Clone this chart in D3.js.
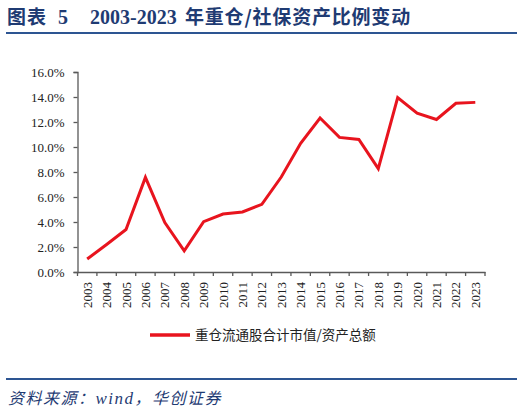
<!DOCTYPE html>
<html>
<head>
<meta charset="utf-8">
<script src="https://cdn.jsdelivr.net/npm/d3@7"></script>
<style>
  body { margin: 0; background: #fff; }
  svg { display: block; }
</style>
</head>
<body>
<script>
  // 数据
  var years = ['2003','2004','2005','2006','2007','2008','2009','2010','2011','2012','2013',
    '2014','2015','2016','2017','2018','2019','2020','2021','2022','2023'];
  var ratio = [1.04, 2.2, 3.4, 7.57, 3.95, 1.7, 4.03, 4.64, 4.8, 5.41, 7.6,
    10.3, 12.32, 10.77, 10.6, 8.27, 13.95, 12.7, 12.2, 13.5, 13.57];
  var yTicks = [0, 2, 4, 6, 8, 10, 12, 14, 16];
  var seriesName = '重仓流通股合计市值/资产总额';

  var width = 524, height = 413;
  var navy = '#1f3b73', rule = '#2d5592', red = '#e8141e', axisColor = '#595959';
  var serif = '"Liberation Serif", "Times New Roman", serif';
  var cjk = '"Noto Sans CJK SC", sans-serif';

  var svg = d3.select('body').append('svg')
    .attr('width', width)
    .attr('height', height);

  // 标题
  var title = svg.append('text')
    .attr('x', 7).attr('y', 24)
    .attr('fill', navy)
    .attr('font-weight', 'bold');
  title.append('tspan').attr('font-family', cjk).attr('font-size', 19).attr('letter-spacing', 1).text('图表');
  title.append('tspan').attr('font-family', serif).attr('font-size', 20).attr('x', 58).text('5');
  title.append('tspan').attr('font-family', serif).attr('font-size', 20).attr('x', 90).text('2003-2023');
  title.append('tspan').attr('font-family', cjk).attr('font-size', 19).attr('x', 185)
    .attr('letter-spacing', 0.8).text('年重仓/社保资产比例变动');

  svg.append('line')
    .attr('x1', 6).attr('x2', 517).attr('y1', 33).attr('y2', 33)
    .attr('stroke', rule).attr('stroke-width', 2);

  // 比例尺
  var x = d3.scaleBand().domain(years).range([77.5, 485]);
  var y = d3.scaleLinear().domain([0, 16]).range([272, 72]);

  // y轴
  var yAxis = svg.append('g')
    .attr('transform', 'translate(77.5,0)')
    .call(d3.axisLeft(y).tickValues(yTicks).tickSize(4).tickPadding(9)
      .tickFormat(function(d){ return d.toFixed(1) + '%' }));
  yAxis.select('.domain').attr('stroke', axisColor).attr('stroke-width', 1.3);
  yAxis.selectAll('.tick line').attr('stroke', axisColor).attr('stroke-width', 1.3);
  yAxis.selectAll('.tick text')
    .attr('font-family', serif).attr('font-size', 13).attr('fill', '#222');

  // x轴
  var xAxis = svg.append('g')
    .attr('transform', 'translate(0,272)')
    .call(d3.axisBottom(x).tickSize(0).tickSizeOuter(0));
  xAxis.select('.domain').attr('stroke', axisColor).attr('stroke-width', 1.3);
  xAxis.selectAll('.tick text')
    .attr('font-family', serif).attr('font-size', 13).attr('fill', '#222')
    .attr('transform', 'rotate(-90)')
    .attr('text-anchor', 'end')
    .attr('x', -10).attr('y', 0).attr('dy', '0.35em');
  // 刻度线在类别边界
  var edges = years.map(function(d){ return x(d) }).concat([x(years[years.length - 1]) + x.bandwidth()]);
  xAxis.selectAll('.edge')
    .data(edges)
    .enter()
    .append('line')
    .attr('class', 'edge')
    .attr('x1', function(d){ return d }).attr('x2', function(d){ return d })
    .attr('y1', 0).attr('y2', 4)
    .attr('stroke', axisColor).attr('stroke-width', 1.3);

  // 折线
  var line = d3.line()
    .x(function(d, i){ return x(years[i]) + x.bandwidth() / 2 })
    .y(function(d){ return y(d) });
  svg.append('path')
    .datum(ratio)
    .attr('d', line)
    .attr('fill', 'none')
    .attr('stroke', red)
    .attr('stroke-width', 3)
    .attr('stroke-linejoin', 'miter');

  // 图例
  svg.append('line')
    .attr('x1', 150).attr('x2', 190).attr('y1', 335).attr('y2', 335)
    .attr('stroke', red).attr('stroke-width', 3.5);
  svg.append('text')
    .attr('x', 195).attr('y', 340)
    .attr('font-family', cjk).attr('font-size', 13.5).attr('fill', '#222')
    .text(seriesName);

  // 资料来源
  svg.append('line')
    .attr('x1', 6).attr('x2', 517).attr('y1', 379).attr('y2', 379)
    .attr('stroke', rule).attr('stroke-width', 2);
  var src = svg.append('text')
    .attr('x', 8).attr('y', 404)
    .attr('fill', navy).attr('font-size', 16).attr('font-style', 'italic')
    .attr('letter-spacing', 1.5);
  src.append('tspan').attr('font-family', cjk).text('资料来源：');
  src.append('tspan').attr('font-family', serif).attr('font-size', 17).text('wind');
  src.append('tspan').attr('font-family', cjk).text('，华创证券');
</script>
</body>
</html>
